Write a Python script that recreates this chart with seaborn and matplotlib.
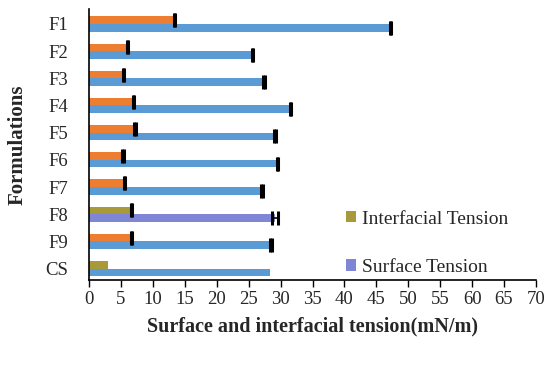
import numpy as np
import pandas as pd
import matplotlib
matplotlib.use("Agg")
import matplotlib.pyplot as plt
from matplotlib.patches import Patch
import seaborn as sns

formulations = ["F1", "F2", "F3", "F4", "F5", "F6", "F7", "F8", "F9", "CS"]
interfacial = [13.4, 6.0, 5.4, 7.0, 7.2, 5.3, 5.6, 6.6, 6.6, 3.0]
surface = [47.2, 25.6, 27.4, 31.6, 29.1, 29.5, 27.1, 29.1, 28.5, 28.4]
interfacial_err = [0.1, 0.1, 0.1, 0.1, 0.1, 0.1, 0.1, 0.1, 0.1, np.nan]
surface_err = [0.1, 0.1, 0.1, 0.1, 0.1, 0.1, 0.1, 0.5, 0.1, np.nan]
series_names = ["Interfacial Tension", "Surface Tension"]

ORANGE = "#ED7D31"
BLUE = "#5B9BD5"
OLIVE = "#A89A3A"
PURPLE = "#7F86D6"

sns.set_theme(style="white")
plt.rcParams["font.family"] = ["Liberation Serif", "DejaVu Serif"]

df = pd.DataFrame({
    "Formulation": formulations * 2,
    "Value": interfacial + surface,
    "Type": [series_names[0]] * len(formulations) + [series_names[1]] * len(formulations),
})

fig = plt.figure(figsize=(5.5, 3.7), dpi=100)
ax = fig.add_axes([0.162, 0.2432, 0.8125, 0.7325])

sns.barplot(data=df, y="Formulation", x="Value", hue="Type", orient="h",
            order=formulations, hue_order=series_names,
            palette=[ORANGE, BLUE], width=0.56, errorbar=None,
            legend=False, ax=ax, saturation=1)

n = len(formulations)
patches = [p for p in ax.patches]
for idx, name in enumerate(formulations):
    if name in ("F8", "CS"):
        patches[idx].set_facecolor(OLIVE)
    if name == "F8":
        patches[n + idx].set_facecolor(PURPLE)
for p in patches:
    p.set_edgecolor("none")

pos = np.arange(n)
off = 0.56 / 4
ie = np.array(interfacial_err, dtype=float)
se = np.array(surface_err, dtype=float)
m = ~np.isnan(ie)
ax.errorbar(np.array(interfacial)[m], (pos - off)[m], xerr=ie[m], fmt="none",
            ecolor="black", elinewidth=1.2, capsize=5, capthick=2.2)
m = ~np.isnan(se)
ax.errorbar(np.array(surface)[m], (pos + off)[m], xerr=se[m], fmt="none",
            ecolor="black", elinewidth=1.2, capsize=5, capthick=2.2)

ax.set_xlim(0, 70)
ax.set_ylim(9.42, -0.55)
ax.set_xticks(np.arange(0, 71, 5))
ax.tick_params(axis="x", direction="out", length=5, width=1, color="black",
               labelsize=13.5, pad=3, bottom=True)
ax.tick_params(axis="y", length=0, labelsize=13.5, pad=15)
for s in ("top", "right"):
    ax.spines[s].set_visible(False)
for s in ("left", "bottom"):
    ax.spines[s].set_color("black")
    ax.spines[s].set_linewidth(1.2)

ax.set_xlabel("Surface and interfacial tension(mN/m)", fontsize=14.5,
              fontweight="bold", labelpad=6)
ax.set_ylabel("Formulations", fontsize=15, fontweight="bold", labelpad=13)

handles = [Patch(facecolor=OLIVE, edgecolor="none"),
           Patch(facecolor=PURPLE, edgecolor="none")]
ax.legend(handles, series_names, loc="lower left", bbox_to_anchor=(0.545, -0.035),
          frameon=False, fontsize=14, handlelength=0.5, handleheight=0.5,
          handletextpad=0.3, labelspacing=1.6, borderaxespad=0.3)

fig.savefig("out.png", dpi=100)
